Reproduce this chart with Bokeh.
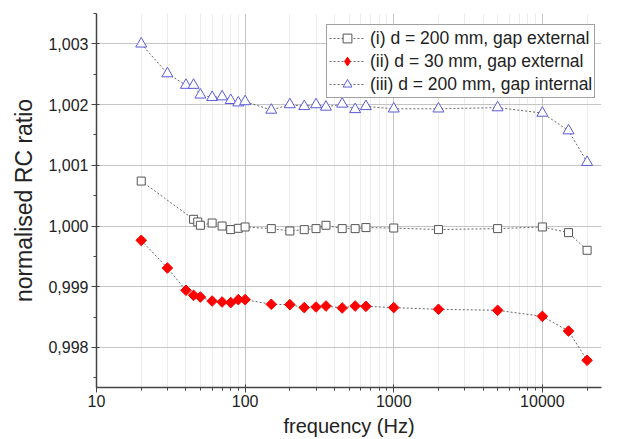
from bokeh.plotting import figure
from bokeh.models import FixedTicker, CustomJSTickFormatter, Legend, LegendItem
from bokeh.embed import file_html
from bokeh.resources import INLINE

# ---- data ----
freq_i = [20, 45, 48, 50, 60, 70, 80, 90, 100, 150, 200, 250, 300, 350, 450, 550, 650,
          1000, 2000, 5000, 10000, 15000, 20000]
ratio_i = [1.00074, 1.00011, 1.000066, 1.000012, 1.000049, 1.0, 0.999941, 0.999962, 0.999984,
           0.999957, 0.999918, 0.99994, 0.999957, 1.000012, 0.999957, 0.999957, 0.999974,
           0.999967, 0.999941, 0.999957, 0.999984, 0.999891, 0.9996]

freq_ii = [20, 30, 40, 45, 50, 60, 70, 80, 90, 100, 150, 200, 250, 300, 350, 450, 550, 650,
           1000, 2000, 5000, 10000, 15000, 20000]
ratio_ii = [0.999764, 0.999308, 0.998941, 0.998858, 0.99883, 0.998764, 0.998748, 0.998738,
            0.998787, 0.998787, 0.99871, 0.998705, 0.998656, 0.998666, 0.998682, 0.99865,
            0.998682, 0.998677, 0.998656, 0.998628, 0.998611, 0.998512, 0.99827, 0.997788]

freq_iii = [20, 30, 40, 45, 50, 60, 70, 80, 90, 100, 150, 200, 250, 300, 350, 450, 550, 650,
            1000, 2000, 5000, 10000, 15000, 20000]
ratio_iii = [1.003, 1.00251, 1.00232, 1.00232, 1.00216, 1.00212, 1.00213, 1.00207, 1.00203,
             1.00205, 1.00191, 1.002, 1.00197, 1.002, 1.00196, 1.00201, 1.00192, 1.00197,
             1.00193, 1.00193, 1.00195, 1.00186, 1.00157, 1.00105]

labels = ["(i) d = 200 mm, gap external",
          "(ii) d = 30 mm, gap external",
          "(iii) d = 200 mm, gap internal"]

x_ticks = [10, 100, 1000, 10000]
x_minor = [20, 30, 40, 50, 60, 70, 80, 90, 200, 300, 400, 500, 600, 700, 800, 900,
           2000, 3000, 4000, 5000, 6000, 7000, 8000, 9000, 20000]
y_ticks = [0.998, 0.999, 1.000, 1.001, 1.002, 1.003]
y_minor = [0.9975, 0.9985, 0.9995, 1.0005, 1.0015, 1.0025, 1.0035]

FONT = "Liberation Sans"

p = figure(width=621, height=439, x_axis_type="log",
           x_range=(10, 25000), y_range=(0.99734, 1.0035),
           output_backend="svg", toolbar_location=None,
           min_border_left=96, min_border_right=20, min_border_top=13, min_border_bottom=52)
p.outline_line_color = None
p.background_fill_color = "white"

# axes
p.xaxis.ticker = FixedTicker(ticks=x_ticks, minor_ticks=x_minor)
p.yaxis.ticker = FixedTicker(ticks=y_ticks, minor_ticks=y_minor)
p.xaxis.formatter = CustomJSTickFormatter(code="return tick.toFixed(0);")
p.yaxis.formatter = CustomJSTickFormatter(code="return tick.toFixed(3).replace('.', ',');")
p.xaxis.axis_label = "frequency (Hz)"
p.yaxis.axis_label = "normalised RC ratio"
for ax in (p.xaxis, p.yaxis):
    ax.axis_line_color = "#444444"
    ax.axis_line_width = 1.5
    ax.major_tick_line_color = "#444444"
    ax.minor_tick_line_color = "#444444"
    ax.major_tick_in = 3
    ax.major_tick_out = 5
    ax.minor_tick_in = 0
    ax.minor_tick_out = 3
    ax.major_label_text_font = FONT
    ax.major_label_text_font_size = "16px"
    ax.major_label_text_color = "#222222"
    ax.axis_label_text_font = FONT
    ax.axis_label_text_font_style = "normal"
    ax.axis_label_text_color = "#222222"
p.xaxis.axis_label_text_font_size = "20px"
p.yaxis.axis_label_text_font_size = "23px"
p.xaxis.major_label_standoff = 2
p.yaxis.major_label_standoff = 3
p.xaxis.axis_label_standoff = 5
p.yaxis.axis_label_standoff = 8

# grids
p.xgrid.grid_line_color = "#c4c4c4"
p.ygrid.grid_line_color = "#c4c4c4"
p.xgrid.minor_grid_line_color = "#ececec"
p.ygrid.minor_grid_line_color = None

LINE = "#666666"
DASH = "2 2"

l1 = p.line(freq_i, ratio_i, line_color=LINE, line_dash=DASH, line_width=1)
s1 = p.scatter(freq_i, ratio_i, marker="square", size=8, fill_color="white",
               line_color="#555555", line_width=1)
l2 = p.line(freq_ii, ratio_ii, line_color=LINE, line_dash=DASH, line_width=1)
# key glyph for the legend (Bokeh never rotates legend markers); drawn tiny, hidden below s2
s2_key = p.scatter(freq_ii[:1], ratio_ii[:1], marker="diamond", size=1,
                   fill_color="#ff0000", line_color="#ff0000", line_width=1)
s2 = p.scatter(freq_ii, ratio_ii, marker="square", angle=0.785398, size=7.5,
               fill_color="#ff0000", line_color="#ff0000", line_width=1)
l3 = p.line(freq_iii, ratio_iii, line_color=LINE, line_dash=DASH, line_width=1)
s3 = p.scatter(freq_iii, ratio_iii, marker="triangle", size=11, fill_color="white",
               line_color="#5b5bd8", line_width=1)

legend = Legend(items=[LegendItem(label=labels[0], renderers=[l1, s1]),
                       LegendItem(label=labels[1], renderers=[l2, s2_key]),
                       LegendItem(label=labels[2], renderers=[l3, s3])],
                location=(230, 289))
legend.label_text_font = FONT
legend.label_text_font_size = "17.5px"
legend.label_text_color = "#222222"
legend.label_height = 22
legend.label_standoff = 5
legend.glyph_width = 36
legend.glyph_height = 22
legend.spacing = 1
legend.padding = 2
legend.margin = 0
legend.border_line_color = "#444444"
legend.border_line_width = 1
legend.background_fill_color = "white"
legend.background_fill_alpha = 1
p.add_layout(legend)

open("out.html", "w").write(file_html(p, INLINE))
